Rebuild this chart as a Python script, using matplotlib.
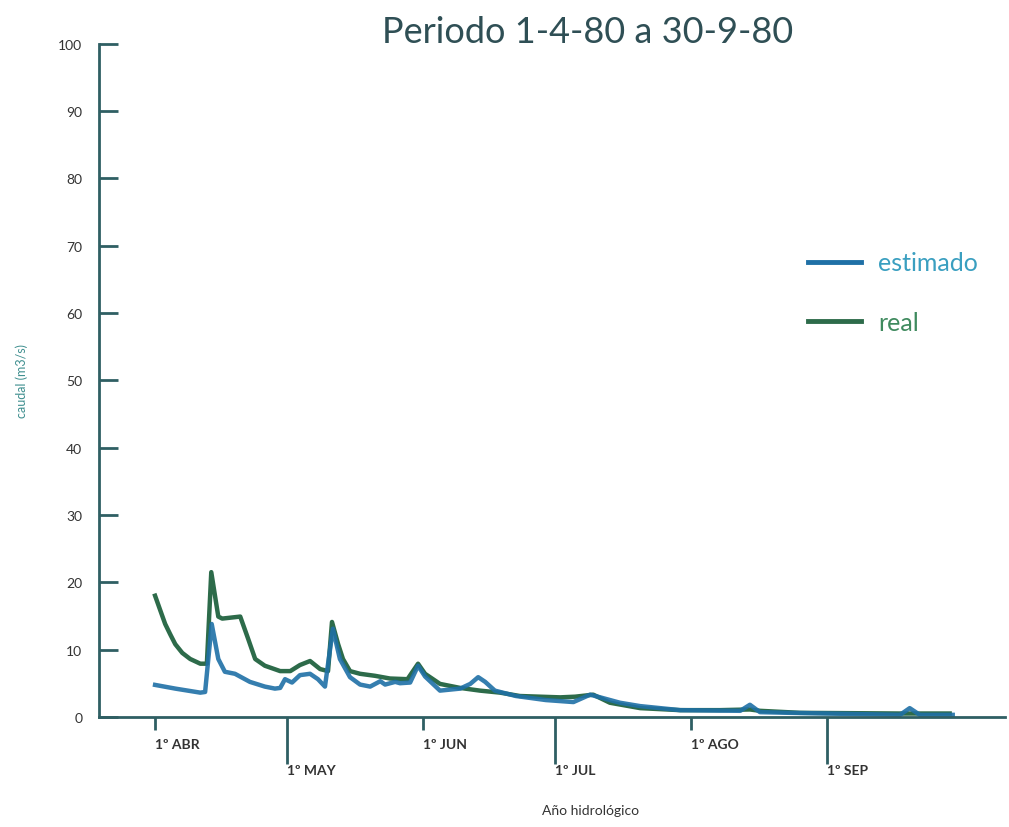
import matplotlib.pyplot as plt
from matplotlib.lines import Line2D

# day of the hydrological period (0 = 1 April 1980) and flow in m3/s
real_days = [0, 1.2, 2.3, 3.5, 4.6, 6.2, 8, 10.3, 11.8, 12.8, 14.4, 15.3, 19.4, 21.2, 22.8, 25,
             28.5, 30.8, 33, 35.3, 37.6, 39.4, 40.3, 41.7, 42.8, 44.4, 46.7, 50.1, 53.5, 57.5,
             59.9, 61.5, 64.9, 69.5, 74, 78.6, 83.1, 87.7, 92.3, 95.7, 99.8, 103.6, 110.5,
             119.6, 128.7, 135.5, 137.8, 146.9, 169.7, 181]
real_vals = [18.0, 15.8, 13.8, 12.2, 10.8, 9.5, 8.6, 7.9, 7.9, 21.5, 14.9, 14.6, 14.9, 11.6,
             8.6, 7.6, 6.8, 6.8, 7.7, 8.3, 7.1, 6.8, 14.1, 10.8, 8.6, 6.8, 6.4, 6.1, 5.7, 5.6,
             7.9, 6.4, 4.9, 4.3, 3.9, 3.6, 3.1, 3.0, 2.9, 3.0, 3.3, 2.1, 1.3,
             1.0, 1.0, 1.1, 0.9, 0.6, 0.5, 0.5]

est_days = [0, 4.6, 10.3, 11.4, 12.9, 14.4, 15.9, 18.2, 21.6, 25, 27.3, 28.5, 29.6, 31.2, 33,
            35.3, 37.1, 38.7, 40.5, 42.1, 44.4, 46.7, 49, 51.3, 52.4, 54.7, 55.8, 58.1, 59.9,
            61.5, 64.9, 69.5, 71.8, 73.6, 75.2, 77.4, 82.2, 89, 95.3, 99.1, 101.4, 105.9,
            110.5, 119.6, 133.3, 135.5, 137.8, 144.6, 169.7, 171.9, 174.2, 181.7]
est_vals = [4.75, 4.2, 3.6, 3.7, 13.8, 8.6, 6.7, 6.4, 5.2, 4.5, 4.2, 4.3, 5.6, 5.1, 6.2,
            6.4, 5.6, 4.5, 13.1, 8.6, 5.9, 4.8, 4.5, 5.3, 4.8, 5.2, 5.0, 5.1, 7.6,
            6.0, 3.9, 4.2, 4.9, 5.9, 5.2, 3.9, 3.1, 2.5, 2.2, 3.3, 2.9, 2.1,
            1.6, 1.0, 0.9, 1.8, 0.7, 0.6, 0.3, 1.3, 0.3, 0.3]

short_ticks = [0, 61, 122]
short_labels = ['1º ABR', '1º JUN', '1º AGO']
long_ticks = [30, 91, 153]
long_labels = ['1º MAY', '1º JUL', '1º SEP']

axis_col = '#2f5f63'
blue = '#1f70a6'
green = '#2d6b4a'

plt.rcParams['font.family'] = ['Lato', 'DejaVu Sans']

fig = plt.figure(figsize=(10.09, 8.28), dpi=100)
ax = fig.add_axes([0.098, 0.133, 0.898, 0.813])

ax.plot(real_days, real_vals, color=green, linewidth=3.2, solid_joinstyle='round')
ax.plot(est_days, est_vals, color=blue, linewidth=3.2, solid_joinstyle='round', alpha=0.9)

ax.set_xlim(-12.8, 193.6)
ax.set_ylim(0, 100)

for s in ['top', 'right']:
    ax.spines[s].set_visible(False)
for s in ['left', 'bottom']:
    ax.spines[s].set_color(axis_col)
    ax.spines[s].set_linewidth(2)

ax.set_yticks(range(0, 101, 10))
ax.tick_params(axis='y', direction='in', length=14, width=2, color=axis_col,
               labelsize=10, labelcolor='#333333', pad=12)

ax.set_xticks(long_ticks)
ax.set_xticklabels(long_labels)
ax.set_xticks(short_ticks, minor=True)
ax.set_xticklabels(short_labels, minor=True)
ax.tick_params(axis='x', which='major', direction='out', length=34, width=2, color=axis_col,
               labelsize=10, labelcolor='#333333', pad=0)
ax.tick_params(axis='x', which='minor', direction='out', length=9, width=2, color=axis_col,
               labelsize=10, labelcolor='#333333', pad=6)
for lab in ax.get_xticklabels() + ax.get_xticklabels(minor=True):
    lab.set_horizontalalignment('left')
    lab.set_fontweight('bold')

ax.set_ylabel('caudal (m3/s)', color='#3f8f8f', fontsize=9, labelpad=22)
fig.text(0.585, 0.016, 'Año hidrológico', ha='center', fontsize=10, color='#333333')
fig.text(0.582, 0.948, 'Periodo 1-4-80 a 30-9-80', ha='center', fontsize=26, color='#2f4f55')

handles = [Line2D([], [], color=blue, linewidth=3.5), Line2D([], [], color=green, linewidth=3.5)]
leg = ax.legend(handles, ['estimado', 'real'], loc='upper left', bbox_to_anchor=(0.758, 0.725),
                frameon=False, fontsize=18, handlelength=2.1, handletextpad=0.7, labelspacing=1.45)
leg.get_texts()[0].set_color('#3a9fc0')
leg.get_texts()[1].set_color('#3f8a5e')

fig.savefig('out.png', dpi=100)
